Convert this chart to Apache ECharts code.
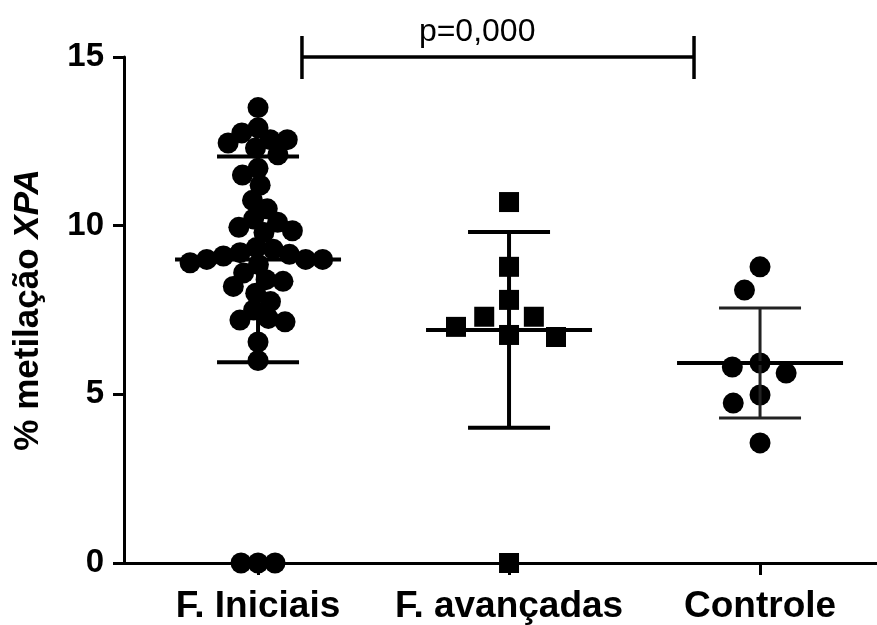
<!DOCTYPE html>
<html>
<head>
<meta charset="utf-8">
<script src="https://cdn.jsdelivr.net/npm/echarts@6/dist/echarts.min.js"></script>
<style>
html,body{margin:0;padding:0;background:#fff;}
#c{width:877px;height:625px;}
</style>
</head>
<body>
<div id="c"></div>
<script>
// ---- data ----
const categories = ['F. Iniciais', 'F. avançadas', 'Controle'];
const iniciais = [13.5, 12.9, 12.55, 12.75, 12.3, 12.55, 12.45, 12.1, 11.7, 11.5,
  11.2, 10.75, 10.5, 10.2, 10.1, 9.95, 9.85, 9.8, 9.35, 9.3,
  9.2, 9.15, 9.1, 9.0, 9.0, 8.9, 8.85,
  9.0, 8.6, 8.4, 8.35, 8.2, 8.0, 7.75, 7.5, 7.25, 7.2,
  7.15, 6.55, 6.0, 0, 0, 0];
const avancadas = [10.7, 8.78, 7.8, 7.3, 7.0, 7.3, 6.76, 6.7, 0];
const controle = [8.78, 8.09, 5.63, 5.81, 5.93, 4.98, 4.74, 3.56];
const means = [9.0, 6.91, 5.93];
const sds = [3.05, 2.9, 1.63];
const yTicks = [0, 5, 10, 15];
const pLabel = 'p=0,000';
const bracketFrom = 1.175, bracketTo = 2.737, bracketY = 15, pLabelX = 1.873;

// ---- layout ----
const W = 877, H = 625;
const gridLeft = 124, gridRight = 0, gridTop = 57, gridBottom = 62;
const xMin = 0.466, xMax = 3.466;
const pxPerX = (W - gridLeft - gridRight) / (xMax - xMin);
const pxPerY = (H - gridTop - gridBottom) / (yTicks[yTicks.length - 1] - yTicks[0]);
const FONT = '"Liberation Sans", Arial, Helvetica, sans-serif';

// simple beeswarm: place each point at the smallest horizontal offset that avoids overlap
function swarm(values, center, diam) {
  const idx = values.map((v, i) => i).sort((a, b) => values[b] - values[a]);
  const placed = [];
  const out = new Array(values.length);
  idx.forEach(i => {
    const y = values[i] * pxPerY;
    const cands = [0];
    placed.forEach(p => {
      const dy = Math.abs(p.y - y);
      if (dy < diam) {
        const dx = Math.sqrt(diam * diam - dy * dy);
        cands.push(p.x - dx, p.x + dx);
      }
    });
    const ok = cands.filter(c => placed.every(q => (c - q.x) ** 2 + (y - q.y) ** 2 >= diam * diam - 0.01));
    ok.sort((a, b) => Math.abs(a) - Math.abs(b) || a - b);
    const x = ok[0];
    placed.push({ x, y });
    out[i] = [center + x / pxPerX, values[i]];
  });
  return out;
}

const groups = [iniciais, avancadas, controle];
const swarmDiam = [17, 30, 28];
const symbols = ['circle', 'rect', 'circle'];
const symbolSizes = [21, 20, 21];
const barWidths = [4, 4, 3];
const barColors = ['#000', '#000', '#222'];

const scatterSeries = groups.map((g, k) => ({
  type: 'scatter',
  data: swarm(g, k + 1, swarmDiam[k]),
  symbol: symbols[k],
  symbolSize: symbolSizes[k],
  itemStyle: { color: '#000', opacity: 1 },
  z: 3,
  clip: false,
  silent: true
}));

const errSeries = {
  type: 'custom',
  data: means.map((m, k) => [k + 1, m, sds[k]]),
  z: 4,
  silent: true,
  renderItem: function (params, api) {
    const k = params.dataIndex;
    const x = api.value(0), m = api.value(1), s = api.value(2);
    const c = api.coord([x, m]);
    const t = api.coord([x, m + s]);
    const b = api.coord([x, m - s]);
    const capHalf = 41, meanHalf = 83;
    const lw = barWidths[k], col = barColors[k];
    const st = { stroke: col, lineWidth: lw };
    return {
      type: 'group',
      children: [
        { type: 'line', shape: { x1: c[0], y1: t[1], x2: c[0], y2: b[1] }, style: st },
        { type: 'line', shape: { x1: c[0] - capHalf, y1: t[1], x2: c[0] + capHalf, y2: t[1] }, style: st },
        { type: 'line', shape: { x1: c[0] - capHalf, y1: b[1], x2: c[0] + capHalf, y2: b[1] }, style: st },
        { type: 'line', shape: { x1: c[0] - meanHalf, y1: c[1], x2: c[0] + meanHalf, y2: c[1] }, style: { stroke: '#000', lineWidth: 4 } }
      ]
    };
  }
};

const bracketSeries = {
  type: 'custom',
  data: [[bracketFrom, bracketTo, bracketY, pLabelX]],
  z: 5,
  silent: true,
  clip: false,
  renderItem: function (params, api) {
    const a = api.coord([api.value(0), api.value(2)]);
    const b = api.coord([api.value(1), api.value(2)]);
    const l = api.coord([api.value(3), api.value(2)]);
    const st = { stroke: '#000', lineWidth: 3.5 };
    return {
      type: 'group',
      children: [
        { type: 'line', shape: { x1: a[0], y1: a[1], x2: b[0], y2: b[1] }, style: st },
        { type: 'line', shape: { x1: a[0], y1: a[1] - 21, x2: a[0], y2: a[1] + 22 }, style: st },
        { type: 'line', shape: { x1: b[0], y1: b[1] - 21, x2: b[0], y2: b[1] + 22 }, style: st },
        { type: 'text', style: { text: pLabel, x: l[0], y: a[1] - 25, align: 'center', verticalAlign: 'middle', fill: '#000', font: '32px ' + FONT } }
      ]
    };
  }
};

const chart = echarts.init(document.getElementById('c'), null, { renderer: 'canvas' });
chart.setOption({
  backgroundColor: '#fff',
  animation: false,
  grid: { left: gridLeft, right: gridRight, top: gridTop, bottom: gridBottom, containLabel: false },
  xAxis: {
    type: 'value', min: xMin, max: xMax,
    axisLine: { show: true, onZero: false, lineStyle: { color: '#000', width: 3 } },
    axisTick: { show: true, customValues: [1, 2, 3], length: 12, lineStyle: { color: '#000', width: 3 } },
    axisLabel: {
      show: true, customValues: [1, 2, 3], margin: 25,
      formatter: v => categories[Math.round(v) - 1] || '',
      color: '#000', fontSize: 37, fontWeight: 'bold', fontFamily: FONT
    },
    splitLine: { show: false }
  },
  yAxis: {
    type: 'value', min: yTicks[0], max: yTicks[yTicks.length - 1], interval: 5,
    axisLine: { show: true, lineStyle: { color: '#000', width: 3 } },
    axisTick: { show: true, length: 11, lineStyle: { color: '#000', width: 3 } },
    axisLabel: { color: '#000', fontSize: 33, fontWeight: 'bold', fontFamily: FONT, margin: 20 },
    splitLine: { show: false },
    name: '{a|% metilação }{b|XPA}',
    nameLocation: 'middle', nameRotate: 90, nameGap: 78,
    nameTextStyle: {
      rich: {
        a: { fontSize: 35, fontWeight: 'bold', fontFamily: FONT, color: '#000' },
        b: { fontSize: 35, fontWeight: 'bold', fontStyle: 'italic', fontFamily: FONT, color: '#000' }
      }
    }
  },
  series: [...scatterSeries, errSeries, bracketSeries]
});
</script>
</body>
</html>
